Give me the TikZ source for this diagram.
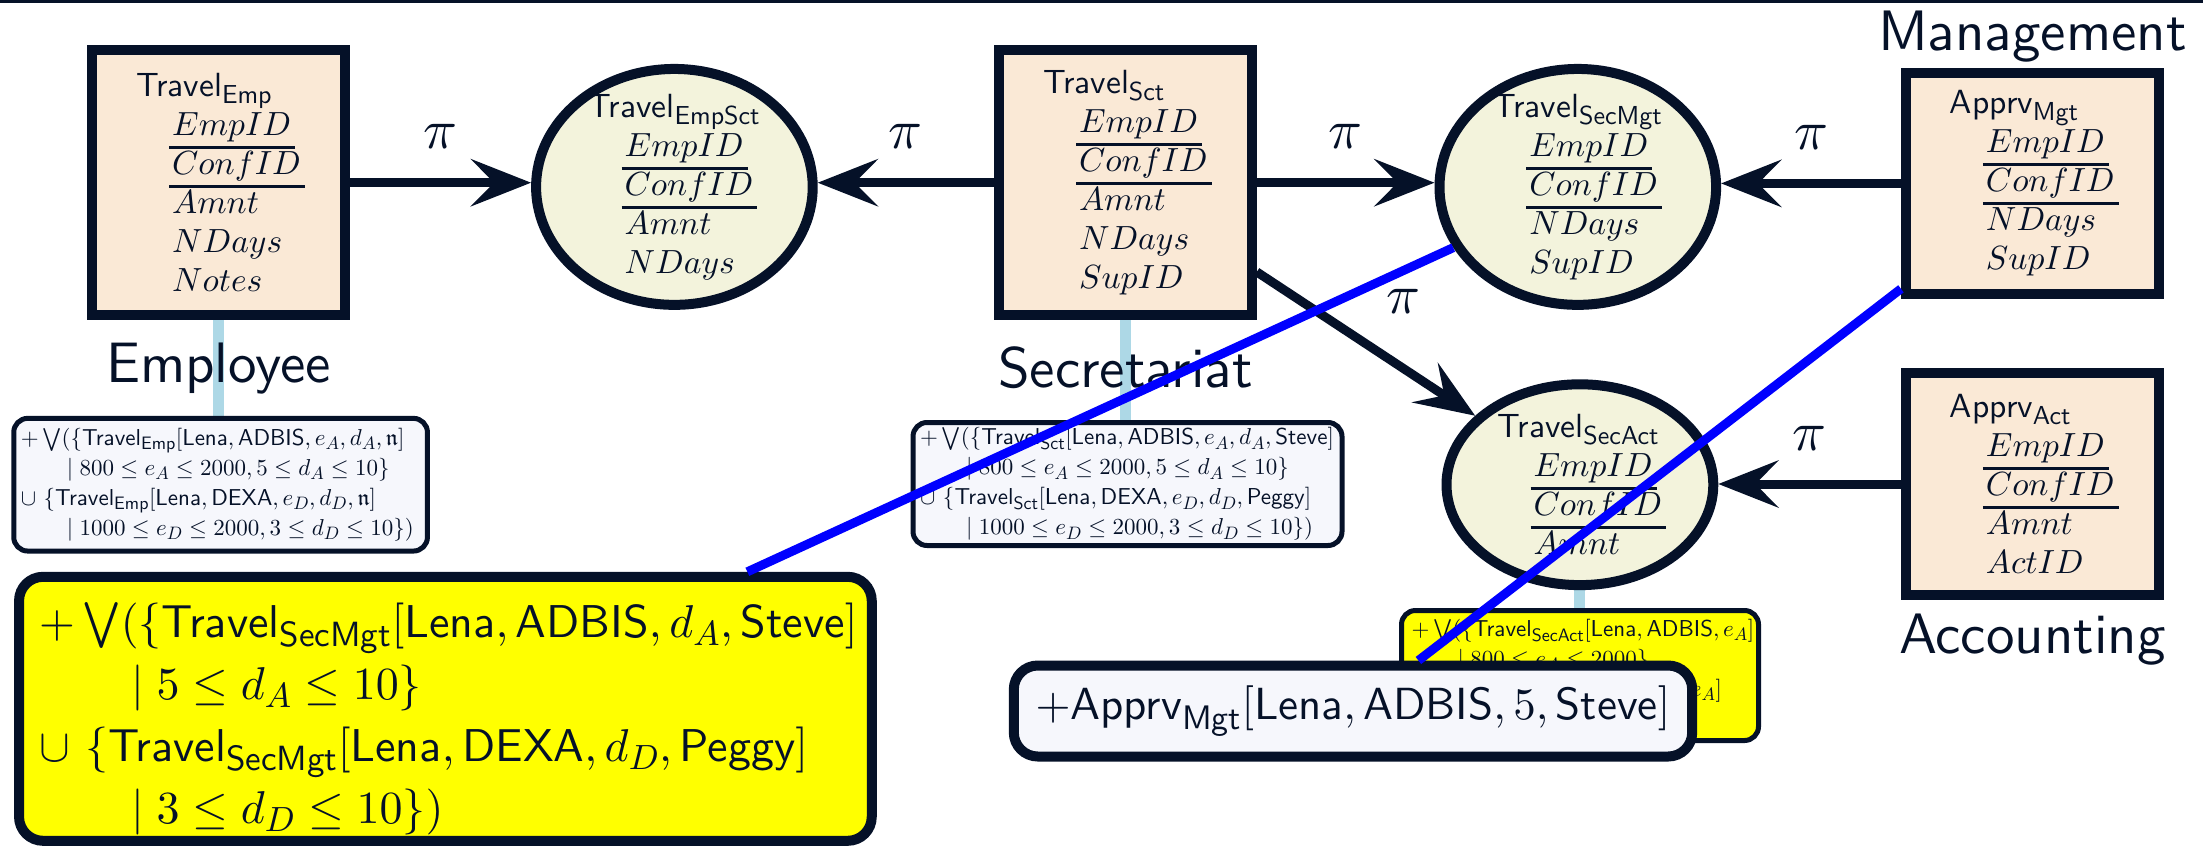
\RequirePackage{fix-cm}
\documentclass[tikz,border=0pt]{standalone}
\usepackage{amsmath,amssymb}
\usepackage[no-math]{fontspec}
\setmainfont{lmsans10-regular.otf}
\setsansfont{lmsans10-regular.otf}
\DeclareFontShape{OML}{cmm}{m}{it}{<->cmmi10}{}
\DeclareFontShape{OMS}{cmsy}{m}{n}{<->cmsy10}{}
\DeclareFontShape{OT1}{cmr}{m}{n}{<->cmr10}{}
\DeclareFontShape{OMX}{cmex}{m}{n}{<->cmex10}{}
\DeclareMathSizes{33.5}{33.5}{26}{19}
\DeclareMathSizes{23}{23}{18}{13}
\DeclareMathSizes{46}{46}{35}{26}
\DeclareMathSizes{45}{45}{34}{25}
\usetikzlibrary{arrows.meta,shapes.geometric,calc}
\pgfdeclarelayer{background}
\pgfsetlayers{background,main}
\definecolor{dark}{RGB}{5,17,40}
\definecolor{boxfill}{RGB}{250,233,214}
\definecolor{ellfill}{RGB}{243,243,220}
\definecolor{smfill}{RGB}{246,247,252}
\definecolor{lblue}{RGB}{173,216,230}
\definecolor{yel}{RGB}{255,255,0}
\definecolor{pureblue}{RGB}{0,0,255}
\newcommand\keyul[1]{\setbox0=\hbox{$#1$}\rlap{\kern-3pt\vrule width\dimexpr\wd0+7pt\relax height -10.5pt depth 13.5pt}\box0}
\newcommand\ind{\hspace*{36pt}}
\begin{document}
\begin{tikzpicture}[x=1pt,y=-1pt,text=dark,
  relbox/.style={draw=dark, line width=10pt, fill=boxfill, rectangle, minimum width=252.7pt, inner sep=0pt, align=left, font=\fontsize{33.5}{39}\selectfont},
  relell/.style={draw=dark, line width=10pt, fill=ellfill, ellipse, inner sep=-30pt, align=left, font=\fontsize{33.5}{39}\selectfont},
  smbox/.style={draw=dark, line width=5pt, rounded corners=14pt, fill=smfill, align=left, inner ysep=0pt, inner xsep=7pt, font=\fontsize{23}{30}\selectfont},
  bigbox/.style={draw=dark, line width=10pt, rounded corners=24pt, align=left, inner ysep=0pt},
  lbl/.style={anchor=base, inner sep=0pt, font=\fontsize{57}{60}\selectfont},
  arr/.style={draw=dark, line width=9pt, -{Stealth[length=60pt,width=47pt,inset=23pt]}},
  pilbl/.style={font=\fontsize{56}{60}\selectfont, inner sep=0pt, midway},
  lbline/.style={draw=lblue, line width=11pt},
  blline/.style={draw=pureblue, line width=9pt}]
\useasboundingbox (0,0) rectangle (2203,849);
\fill[dark] (0,0) rectangle (2203,3);

% relations
\node[relbox, minimum height=265.4pt] (emp) at (218.5,182.7)
  {Travel$_{\text{Emp}}$\\ \ind\keyul{EmpID}\\ \ind\keyul{ConfID}\\ \ind$Amnt$\\ \ind$NDays$\\ \ind$Notes$};
\node[relell, minimum width=276.6pt, minimum height=235.9pt] (empsct) at (674.4,186.9)
  {Travel$_{\text{EmpSct}}$\\ \ind\keyul{EmpID}\\ \ind\keyul{ConfID}\\ \ind$Amnt$\\ \ind$NDays$};
\node[relbox, minimum height=265.4pt] (sct) at (1125.4,182.7)
  {Travel$_{\text{Sct}}$\\ \ind\keyul{EmpID}\\ \ind\keyul{ConfID}\\ \ind$Amnt$\\ \ind$NDays$\\ \ind$SupID$};
\node[relell, minimum width=276.6pt, minimum height=235.9pt] (secmgt) at (1577.8,186.9)
  {Travel$_{\text{SecMgt}}$\\ \ind\keyul{EmpID}\\ \ind\keyul{ConfID}\\ \ind$NDays$\\ \ind$SupID$};
\node[relell, minimum width=266.8pt, minimum height=200.8pt] (secact) at (1579.9,484.7)
  {Travel$_{\text{SecAct}}$\\ \ind\keyul{EmpID}\\ \ind\keyul{ConfID}\\ \ind$Amnt$};
\node[relbox, minimum height=221.8pt] (amgt) at (2032.3,183.4)
  {Apprv$_{\text{Mgt}}$\\ \ind\keyul{EmpID}\\ \ind\keyul{ConfID}\\ \ind$NDays$\\ \ind$SupID$};
\node[relbox, minimum height=221.8pt] (aact) at (2032.3,484.0)
  {Apprv$_{\text{Act}}$\\ \ind\keyul{EmpID}\\ \ind\keyul{ConfID}\\ \ind$Amnt$\\ \ind$ActID$};

% labels
\node[lbl] (lemp) at (218.5,382.2) {Employee};
\node[lbl] (lsct) at (1125.4,387.8) {Secretariat};
\node[lbl] (lmgt) at (2032.3,50.6) {Management};
\node[lbl] (lact) at (2032.3,653.3) {Accounting};

% small boxes
\node[smbox, minimum width=413.7pt, text width=399.7pt, minimum height=132.7pt] (empsm) at (220.6,484.7)
  {$+\bigvee(\{\text{Travel}_{\text{Emp}}[\text{Lena},\text{ADBIS},e_A,d_A,\mathfrak{n}]$\\
   \hspace*{2em}$\mid 800\le e_A\le 2000,5\le d_A\le 10\}$\\
   $\cup\ \{\text{Travel}_{\text{Emp}}[\text{Lena},\text{DEXA},e_D,d_D,\mathfrak{n}]$\\
   \hspace*{2em}$\mid 1000\le e_D\le 2000,3\le d_D\le 10\})$};
\node[smbox, minimum width=429pt, text width=415pt, minimum height=123pt] (sctsm) at (1127.5,484)
  {$+\bigvee(\{\text{Travel}_{\text{Sct}}[\text{Lena},\text{ADBIS},e_A,d_A,\text{Steve}]$\\
   \hspace*{2em}$\mid 800\le e_A\le 2000,5\le d_A\le 10\}$\\
   $\cup\ \{\text{Travel}_{\text{Sct}}[\text{Lena},\text{DEXA},e_D,d_D,\text{Peggy}]$\\
   \hspace*{2em}$\mid 1000\le e_D\le 2000,3\le d_D\le 10\})$};
\node[smbox, fill=yel, inner xsep=10pt, minimum width=357pt, text width=337pt, minimum height=130pt] (actsm) at (1580,675.5)
  {$+\bigvee(\{\text{Travel}_{\text{SecAct}}[\text{Lena},\text{ADBIS},e_A]$\\
   \hspace*{2em}$\mid 800\le e_A\le 2000\}$\\
   $\cup\ \{\text{Travel}_{\text{SecAct}}[\text{Lena},\text{DEXA},e_A]$\\
   \hspace*{2em}$\mid 1000\le e_D\le 2000\})$};
\node[bigbox, fill=smfill, inner xsep=0pt, minimum width=678.4pt, minimum height=91pt, font=\fontsize{45}{58}\selectfont] (apsm) at (1353,711)
  {$+\text{Apprv}_{\text{Mgt}}[\text{Lena},\text{ADBIS},5,\text{Steve}]$};
\node[bigbox, fill=yel, inner xsep=20pt, minimum width=852.7pt, text width=812.7pt, minimum height=264pt, font=\fontsize{46}{62}\selectfont] (ybig) at (445.4,708.8)
  {\rule{0pt}{54pt}$+\bigvee(\{\text{Travel}_{\text{SecMgt}}[\text{Lena},\text{ADBIS},d_A,\text{Steve}]$\\
   \hspace*{2em}$\mid 5\le d_A\le 10\}$\\
   $\cup\ \{\text{Travel}_{\text{SecMgt}}[\text{Lena},\text{DEXA},d_D,\text{Peggy}]$\\
   \hspace*{2em}$\mid 3\le d_D\le 10\})$};

% light blue attachments
\begin{pgfonlayer}{background}
\draw[lbline] (emp.south) -- (emp.south |- empsm.north);
\draw[lbline] (sct.south) -- (sct.south |- sctsm.north);
\draw[lbline] (secact.south) -- (secact.south |- actsm.north);
\end{pgfonlayer}

% projections
\draw[arr] (emp.east) -- node[pilbl,yshift=46pt]{$\pi$} (emp.east -| empsct.west);
\draw[arr] (sct.west) -- node[pilbl,yshift=46pt]{$\pi$} (sct.west -| empsct.east);
\draw[arr] (sct.east) -- node[pilbl,yshift=46pt]{$\pi$} (sct.east -| secmgt.west);
\draw[arr] (amgt.west) -- node[pilbl,yshift=46pt]{$\pi$} (amgt.west -| secmgt.east);
\draw[arr] (aact.west) -- node[pilbl,yshift=46pt]{$\pi$} (aact.west -| secact.east);
\draw[arr] ($(sct.south east)+(0,-48.5)$) -- node[pilbl,xshift=37pt,yshift=42pt]{$\pi$} (secact);

% blue lines
\draw[blline] ($(ybig.north west)!0.85!(ybig.north east)$) -- (secmgt.206);
\draw[blline] ($(amgt.south west)+(0,-10.5)$) -- ($(apsm.north west)!0.595!(apsm.north east)$);
\end{tikzpicture}
\end{document}
